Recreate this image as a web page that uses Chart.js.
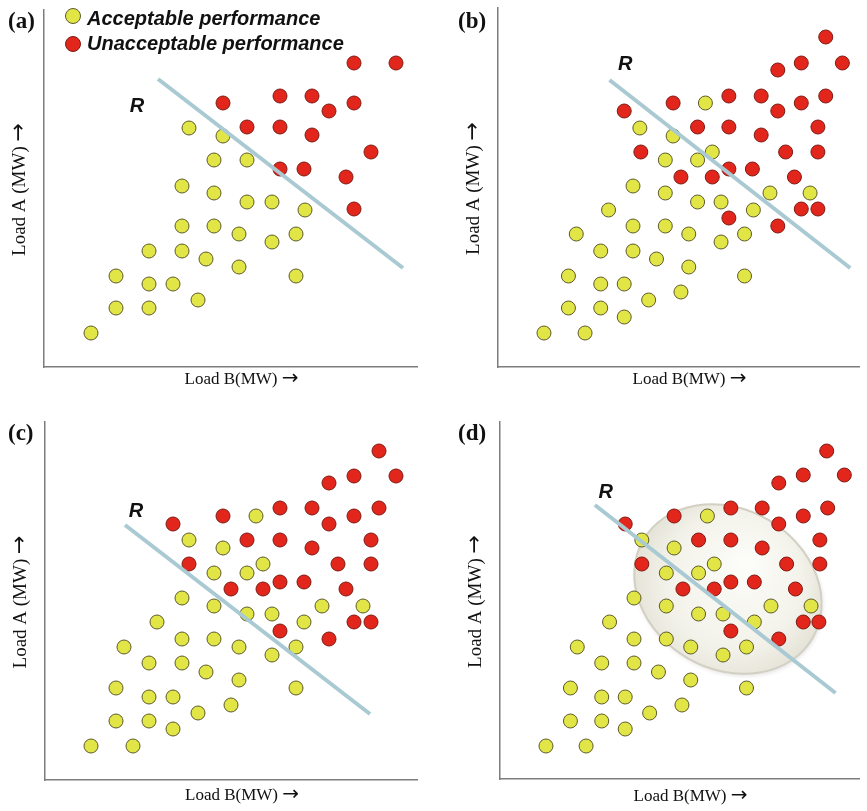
<!DOCTYPE html>
<html><head><meta charset="utf-8">
<script src="https://cdn.jsdelivr.net/npm/chart.js@4.4.0/dist/chart.umd.min.js"></script>
<style>
html,body{margin:0;padding:0;background:#fff;}
#wrap{position:relative;width:867px;height:811px;overflow:hidden;background:#fff;}
canvas{position:absolute;}
.tag{position:absolute;font:bold 23px "Liberation Serif",serif;color:#111;line-height:23px;white-space:nowrap;}
.leg{position:absolute;font:italic bold 20px "Liberation Sans",sans-serif;color:#111;line-height:20px;white-space:nowrap;}
.dot{position:absolute;width:16px;height:16px;border-radius:50%;box-sizing:border-box;border:1px solid;}
</style></head><body>
<div id="wrap">
  <canvas id="ca" width="433" height="405" style="left:0;top:0"></canvas>
  <canvas id="cb" width="434" height="405" style="left:433px;top:0"></canvas>
  <canvas id="cc" width="433" height="406" style="left:0;top:405px"></canvas>
  <canvas id="cd" width="434" height="406" style="left:433px;top:405px"></canvas>
  <div class="tag" style="left:8px;top:9px">(a)</div>
  <div class="tag" style="left:458px;top:9px">(b)</div>
  <div class="tag" style="left:8px;top:421px">(c)</div>
  <div class="tag" style="left:458px;top:421px">(d)</div>
  <div class="dot" id="dotA" style="left:65px;top:8px"></div>
  <div class="leg" id="legA" style="left:87px;top:8px"></div>
  <div class="dot" id="dotU" style="left:65px;top:36px"></div>
  <div class="leg" id="legU" style="left:87px;top:33px"></div>
</div>
<script>
// ---------- data (Load B, Load A) in arbitrary MW units ----------
const seriesNames = ['Acceptable performance', 'Unacceptable performance'];
const xTitleText = 'Load B(MW)';
const yTitleText = 'Load A (MW)';
const arrowText = '\u2192';
const boundaryName = 'R';

// axis limits per panel (a,b,c,d)
const loadBMax = [373, 369, 372, 367];
const loadAMax = [357, 359, 358, 357];

// panel (a)
const aAcceptable = [[145,239],[179,231],[170,207],[203,207],[138,181],[170,174],[203,165],[228,165],[261,157],
  [138,141],[170,141],[195,133],[228,125],[252,133],[105,116],[138,116],[162,108],[195,100],[252,91],[72,91],
  [105,83],[129,83],[154,67],[72,59],[105,59],[47,34]];
const aUnacceptable = [[310,304],[352,304],[236,271],[268,271],[179,264],[310,264],[285,256],[203,240],[236,240],
  [268,232],[327,215],[236,198],[260,198],[302,190],[310,158]];
const aBoundary = [[114,288],[359,99]];
const aBoundaryLabel = [93,261];

// panel (b)
const bAcceptable = [[212,264],[145,239],[179,231],[219,215],[171,207],[204,207],[138,181],[171,174],[278,174],
  [319,174],[204,165],[228,165],[261,157],[113,157],[138,141],[171,141],[195,133],[228,125],[252,133],[80,133],
  [105,116],[138,116],[162,108],[195,100],[252,91],[72,91],[105,83],[129,83],[154,67],[187,75],[72,59],[105,59],
  [129,50],[47,34],[89,34]];
const bUnacceptable = [[335,330],[310,304],[352,304],[286,297],[236,271],[269,271],[335,271],[179,264],[310,264],
  [286,256],[129,256],[204,240],[236,240],[327,240],[269,232],[146,215],[294,215],[327,215],[236,198],[260,198],
  [187,190],[219,190],[303,190],[310,158],[327,158],[236,149],[286,141]];
const bBoundary = [[114,287],[360,99]];
const bBoundaryLabel = [130,303];

// panel (c)
const cAcceptable = [[211,264],[144,240],[178,232],[218,216],[169,207],[202,207],[137,182],[169,174],[277,174],
  [318,174],[202,166],[227,166],[259,158],[112,158],[137,141],[169,141],[194,133],[227,125],[251,133],[79,133],
  [104,117],[137,117],[161,108],[194,100],[251,92],[71,92],[104,83],[128,83],[186,75],[153,67],[71,59],[104,59],
  [128,51],[46,34],[88,34]];
const cUnacceptable = [[334,329],[309,304],[351,304],[284,297],[235,272],[267,272],[334,272],[178,264],[309,264],
  [284,256],[128,256],[202,240],[235,240],[326,240],[267,232],[144,216],[293,216],[326,216],[235,198],[259,198],
  [186,191],[218,191],[301,191],[309,158],[326,158],[235,149],[284,141]];
const cBoundary = [[80,255],[325,66]];
const cBoundaryLabel = [91,269];

// panel (d)
const dAcceptable = [[212,263],[145,239],[178,231],[219,215],[170,206],[203,206],[137,181],[170,173],[277,173],
  [318,173],[203,165],[228,165],[260,157],[112,157],[137,140],[170,140],[195,132],[228,124],[252,132],[79,132],
  [104,116],[137,116],[162,107],[195,99],[252,91],[72,91],[104,82],[128,82],[186,74],[153,66],[72,58],[104,58],
  [128,50],[47,33],[88,33]];
const dUnacceptable = [[334,328],[310,304],[352,304],[285,296],[236,271],[268,271],[335,271],[178,263],[310,263],
  [285,255],[128,255],[203,239],[236,239],[327,239],[268,231],[145,215],[293,215],[327,215],[236,197],[260,197],
  [187,190],[219,190],[302,190],[310,157],[326,157],[236,148],[285,140]];
const dBoundary = [[97,274],[343,86]];
const dBoundaryLabel = [108,287];
// uncertain region in panel (d): centre (Load B, Load A), semi-axes, tilt (deg)
const dRegionCentre = [233,190];
const dRegionAxes = [100,80];
const dRegionTilt = 30;

// ---------- styles ----------
const YEL = '#e1e546', YELB = '#5d5a2c', RED = '#e2261c', REDB = '#7d1b13';
const LINEC = '#a9c9d3', AXISC = '#7d7d7d';
const SERIF = '"Liberation Serif", serif';
const ARROWF = '"DejaVu Sans", sans-serif';

document.getElementById('legA').textContent = seriesNames[0];
document.getElementById('legU').textContent = seriesNames[1];
const dA = document.getElementById('dotA'); dA.style.background = YEL; dA.style.borderColor = YELB;
const dU = document.getElementById('dotU'); dU.style.background = RED; dU.style.borderColor = REDB;

const toXY = arr => arr.map(([x, y]) => ({x, y}));

// axis titles: serif words followed by a sans arrow
function drawTitle(ctx, words, size, cx, cy, rot) {
  ctx.save();
  ctx.translate(cx, cy);
  ctx.rotate(rot);
  ctx.fillStyle = '#111';
  ctx.textBaseline = 'alphabetic';
  ctx.textAlign = 'left';
  const arrowFont = (size + 3) + 'px ' + ARROWF;
  ctx.font = size + 'px ' + SERIF;
  const w1 = ctx.measureText(words + ' ').width;
  ctx.font = arrowFont;
  const w2 = ctx.measureText(arrowText).width;
  const start = -(w1 + w2) / 2;
  ctx.font = size + 'px ' + SERIF;
  ctx.fillText(words + ' ', start, 0);
  ctx.font = arrowFont;
  ctx.fillText(arrowText, start + w1, 0);
  ctx.restore();
}

function titlesPlugin(xBaseOffset) {
  return {
    id: 'axisTitles',
    afterDraw(chart) {
      const {ctx, chartArea: ca} = chart;
      drawTitle(ctx, xTitleText, 17, (ca.left + ca.right) / 2 + 11, ca.bottom + xBaseOffset, 0);
      drawTitle(ctx, yTitleText, 19, ca.left - 19, (ca.top + ca.bottom) / 2 + 1, -Math.PI / 2);
    }
  };
}

function labelPlugin(pos) {
  return {
    id: 'rlabel',
    afterDatasetsDraw(chart) {
      const {ctx, scales: {x, y}} = chart;
      ctx.save();
      ctx.font = 'italic bold 20px "Liberation Sans", sans-serif';
      ctx.fillStyle = '#111';
      ctx.textAlign = 'center';
      ctx.textBaseline = 'middle';
      ctx.fillText(boundaryName, x.getPixelForValue(pos[0]), y.getPixelForValue(pos[1]));
      ctx.restore();
    }
  };
}

function regionPlugin(centre, axes, tilt) {
  return {
    id: 'region',
    beforeDatasetsDraw(chart) {
      const {ctx, scales: {x, y}} = chart;
      const cx = x.getPixelForValue(centre[0]);
      const cy = y.getPixelForValue(centre[1]);
      const rx = Math.abs(x.getPixelForValue(centre[0] + axes[0]) - cx);
      const ry = Math.abs(y.getPixelForValue(centre[1] + axes[1]) - cy);
      ctx.save();
      ctx.shadowColor = 'rgba(0,0,0,0.12)';
      ctx.shadowBlur = 4;
      ctx.shadowOffsetX = 1;
      ctx.shadowOffsetY = 2;
      const g = ctx.createRadialGradient(cx + 20, cy - 25, 5, cx, cy, rx * 1.05);
      g.addColorStop(0, '#fcfcf9');
      g.addColorStop(0.65, '#f3f2ea');
      g.addColorStop(1, '#e2e0d3');
      ctx.beginPath();
      ctx.ellipse(cx, cy, rx, ry, tilt * Math.PI / 180, 0, Math.PI * 2);
      ctx.fillStyle = g;
      ctx.fill();
      ctx.shadowColor = 'transparent';
      ctx.lineWidth = 2;
      ctx.strokeStyle = '#d2d0c3';
      ctx.stroke();
      ctx.restore();
    }
  };
}

function makeChart(id, idx, acc, unacc, boundary, labelPos, layoutPad, xBaseOffset, extraPlugins) {
  new Chart(document.getElementById(id), {
    type: 'scatter',
    data: {
      datasets: [
        {label: boundaryName, data: toXY(boundary), showLine: true, borderColor: LINEC, borderWidth: 4,
         pointRadius: 0, fill: false, order: 0},
        {label: seriesNames[1], data: toXY(unacc), backgroundColor: RED, borderColor: REDB, borderWidth: 1,
         pointRadius: 7, order: 1},
        {label: seriesNames[0], data: toXY(acc), backgroundColor: YEL, borderColor: YELB, borderWidth: 1,
         pointRadius: 7, order: 2}
      ]
    },
    options: {
      responsive: false, animation: false, events: [],
      layout: {padding: layoutPad},
      plugins: {legend: {display: false}, tooltip: {enabled: false}},
      scales: {
        x: {type: 'linear', min: 0, max: loadBMax[idx],
            ticks: {display: false}, grid: {display: false, drawTicks: false},
            border: {display: true, color: AXISC, width: 1.5},
            title: {display: false}},
        y: {type: 'linear', min: 0, max: loadAMax[idx],
            ticks: {display: false}, grid: {display: false, drawTicks: false},
            border: {display: true, color: AXISC, width: 1.5},
            title: {display: false}}
      }
    },
    plugins: [labelPlugin(labelPos), titlesPlugin(xBaseOffset)].concat(extraPlugins || [])
  });
}

makeChart('ca', 0, aAcceptable, aUnacceptable, aBoundary, aBoundaryLabel,
  {left: 44, right: 16, top: 10, bottom: 38}, 17);
makeChart('cb', 1, bAcceptable, bUnacceptable, bBoundary, bBoundaryLabel,
  {left: 65, right: 0, top: 8, bottom: 38}, 17);
makeChart('cc', 2, cAcceptable, cUnacceptable, cBoundary, cBoundaryLabel,
  {left: 45, right: 16, top: 17, bottom: 31}, 20);
makeChart('cd', 3, dAcceptable, dUnacceptable, dBoundary, dBoundaryLabel,
  {left: 67, right: 0, top: 17, bottom: 32}, 22,
  [regionPlugin(dRegionCentre, dRegionAxes, dRegionTilt)]);
</script>
</body></html>
